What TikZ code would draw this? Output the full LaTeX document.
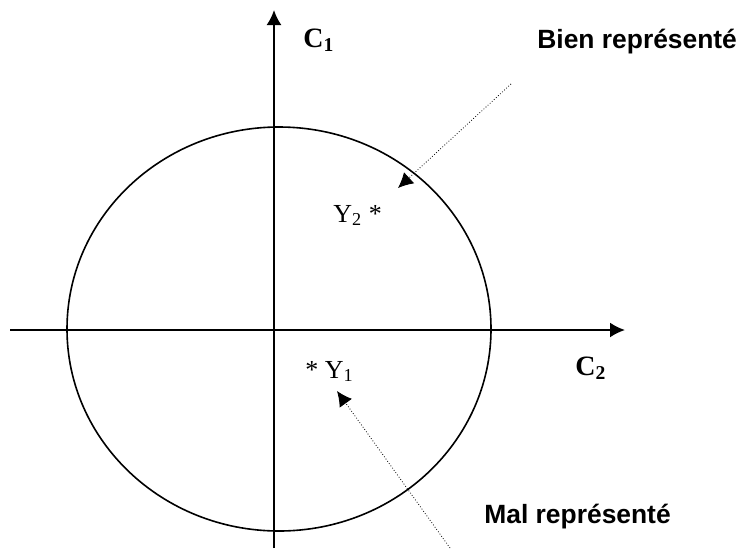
\documentclass[tikz,border=0pt]{standalone}
\usepackage{fontspec}
\setmainfont{Liberation Serif}
\setsansfont{Liberation Sans}
\usetikzlibrary{arrows.meta}
\begin{document}
\begin{tikzpicture}[x=0.5pt, y=-0.5pt, >={Latex[length=7.5pt, width=7.5pt]},
  every node/.style={inner sep=0pt, anchor=base west},
  axe/.style={line width=1pt, ->},
  remarque/.style={font=\sffamily\bfseries\fontsize{13.2}{15}\selectfont},
  comp/.style={font=\bfseries\fontsize{14}{16}\selectfont},
  point/.style={font=\fontsize{13}{15}\selectfont},
  renvoi/.style={->, densely dotted, thin}]
  \useasboundingbox (0,0) rectangle (738,552);
  % axes et cercle
  \coordinate (c1bas) at (274, 548); \coordinate (c1haut) at (274, 10);
  \coordinate (c2gauche) at (10, 330); \coordinate (c2droite) at (625, 330);
  \draw[axe] (c1bas) -- (c1haut);
  \draw[axe] (c2gauche) -- (c2droite);
  \draw[line width=0.8pt] (279, 329) ellipse [x radius=212, y radius=202];
  % etiquettes
  \node[comp] (c1) at (303, 47) {C\textsubscript{1}};
  \node[comp] (c2) at (575, 375) {C\textsubscript{2}};
  \node[point] (y2) at (333, 222) {Y\textsubscript{2} *};
  \node[point] (y1) at (305, 378) {* Y\textsubscript{1}};
  \node[remarque] (bien) at (537, 48) {Bien représenté};
  \node[remarque] (mal) at (484, 523) {Mal représenté};
  % renvois
  \coordinate (bienfin) at (398, 188); \coordinate (biendeb) at (511, 84);
  \coordinate (malfin) at (337, 391); \coordinate (maldeb) at (450, 548);
  \draw[renvoi] (biendeb) -- (bienfin);
  \draw[renvoi] (maldeb) -- (malfin);
\end{tikzpicture}
\end{document}
